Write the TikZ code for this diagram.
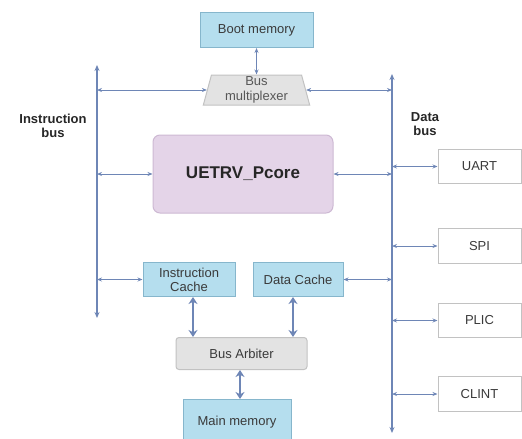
\documentclass[tikz,border=0pt]{standalone}
\usepackage{fontspec}
\setmainfont{Liberation Sans}
\usetikzlibrary{shapes.geometric,arrows.meta}
\definecolor{bluefill}{HTML}{B5DEEE}
\definecolor{blueline}{HTML}{86B6CC}
\definecolor{purplefill}{HTML}{E4D4E8}
\definecolor{purpleline}{HTML}{CDB9D3}
\definecolor{grayfill}{HTML}{E3E3E3}
\definecolor{grayline}{HTML}{C2C2C2}
\definecolor{arrowcol}{HTML}{6E86B6}
\definecolor{txt}{HTML}{3A3A3A}
\tikzset{
  box/.style={draw, line width=1pt, inner sep=0pt, align=center, font=\fontsize{13}{14}\selectfont, text=txt},
  bluebox/.style={box, fill=bluefill, draw=blueline},
  whitebox/.style={box, fill=white, draw=grayline},
  graybox/.style={box, fill=grayfill, draw=grayline, rounded corners=3pt},
  thin arrow/.style={draw=arrowcol, line width=0.9pt, {Stealth[length=5pt,width=4pt]}-{Stealth[length=5pt,width=4pt]}},
  bus line/.style={draw=arrowcol, line width=1.6pt, {Stealth[length=6pt,width=5pt]}-{Stealth[length=6pt,width=5pt]}},
  thick arrow/.style={draw=arrowcol, line width=2.6pt, {Stealth[length=7pt,width=9pt]}-{Stealth[length=7pt,width=9pt]}},
  buslabel/.style={align=center, font=\bfseries\fontsize{13}{14}\selectfont, text=black!85}
}
\begin{document}
\begin{tikzpicture}[x=1pt,y=-1pt]
\useasboundingbox (0,0) rectangle (522,439);
% nodes
\node[bluebox, minimum width=113, minimum height=35] (boot) at (256.5,30) {Boot memory};
\node[trapezium, trapezium stretches=true, trapezium left angle=78, trapezium right angle=78,
      draw=grayline, fill=grayfill, line width=1pt,
      minimum width=107, minimum height=30, inner sep=0pt, align=center,
      font=\fontsize{13}{15}\selectfont, text=txt!85] (mux) at (256.5,90) {Bus\\multiplexer};
\node[box, fill=purplefill, draw=purpleline, rounded corners=7pt, minimum width=180, minimum height=78,
      font=\bfseries\fontsize{17}{20}\selectfont, text=black!85] (pcore) at (243,174) {UETRV\_Pcore};
\node[whitebox, minimum width=83, minimum height=34] (uart) at (479.5,166.5) {UART};
\node[whitebox, minimum width=83, minimum height=35] (spi) at (479.5,246) {SPI};
\node[whitebox, minimum width=83, minimum height=34] (plic) at (479.5,320.5) {PLIC};
\node[whitebox, minimum width=83, minimum height=35] (clint) at (479.5,394) {CLINT};
\node[bluebox, minimum width=92, minimum height=34] (ic) at (189,279.5) {Instruction\\Cache};
\node[bluebox, minimum width=90, minimum height=34] (dc) at (298,279.5) {Data Cache};
\node[graybox, minimum width=131, minimum height=32] (arb) at (241.5,353.5) {Bus Arbiter};
\node[bluebox, minimum width=108, minimum height=46] (mm) at (237,422.5) {Main memory};
\node[buslabel] (iblabel) at (53,126) {Instruction\\bus};
\node[buslabel] (dblabel) at (425,124) {Data\\bus};
% buses
\coordinate (ibtop) at (97,65);
\coordinate (ibbot) at (97,318);
\coordinate (dbtop) at (392,74);
\coordinate (dbbot) at (392,433);
\draw[bus line] (ibtop) -- (ibbot);
\draw[bus line] (dbtop) -- (dbbot);
% connectors
\draw[thin arrow] (boot.south) -- (mux.north);
\draw[thin arrow] (ibtop |- mux.west) -- (mux.west);
\draw[thin arrow] (mux.east) -- (dbtop |- mux.east);
\draw[thin arrow] (ibtop |- pcore.west) -- (pcore.west);
\draw[thin arrow] (pcore.east) -- (dbtop |- pcore.east);
\draw[thin arrow] (dbtop |- uart.west) -- (uart.west);
\draw[thin arrow] (dbtop |- spi.west) -- (spi.west);
\draw[thin arrow] (dbtop |- plic.west) -- (plic.west);
\draw[thin arrow] (dbtop |- clint.west) -- (clint.west);
\draw[thin arrow] (ibtop |- ic.west) -- (ic.west);
\draw[thin arrow] (dc.east) -- (dbtop |- dc.east);
\draw[thick arrow] ([xshift=4pt]ic.south) -- ([xshift=4pt]ic.south |- arb.north);
\draw[thick arrow] ([xshift=-5pt]dc.south) -- ([xshift=-5pt]dc.south |- arb.north);
\draw[thick arrow] ([xshift=-1.5pt]arb.south) -- ([xshift=-1.5pt]arb.south |- mm.north);
\end{tikzpicture}
\end{document}
